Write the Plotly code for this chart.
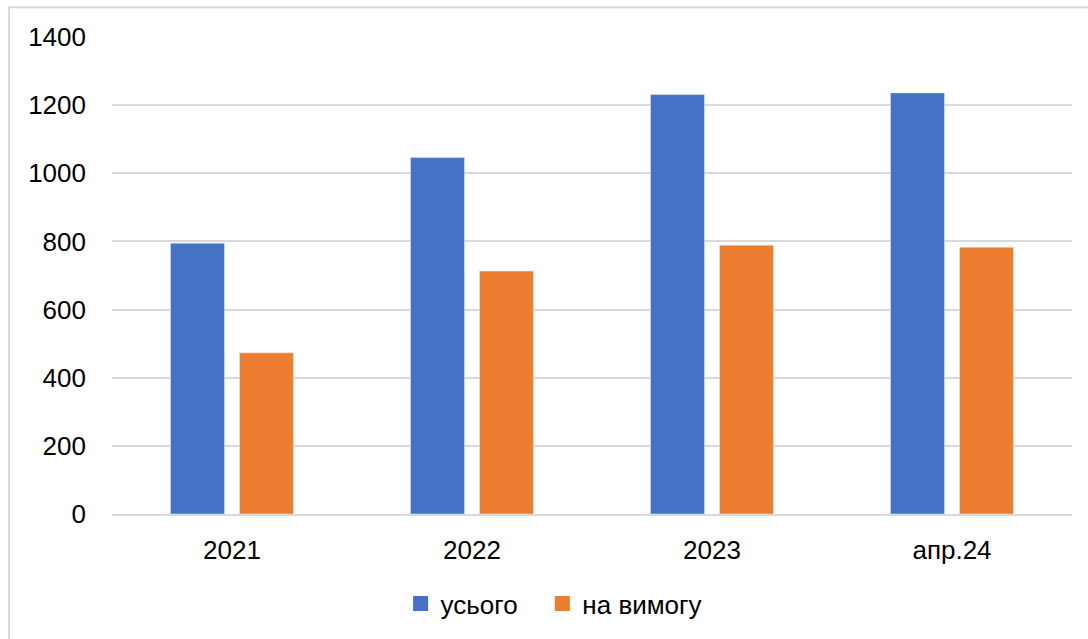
import plotly.graph_objects as go

categories = ["2021", "2022", "2023", "апр.24"]
total = [795, 1046, 1231, 1236]
on_demand = [473, 713, 789, 783]
y_ticks = [0, 200, 400, 600, 800, 1000, 1200, 1400]
series_names = ["усього", "на вимогу"]
colors = ["#4472C4", "#ED7D31"]

fig = go.Figure()
for name, vals, col in zip(series_names, [total, on_demand], colors):
    fig.add_trace(go.Bar(name=name, x=categories, y=vals, marker_color=col,
                         showlegend=False, legendgroup=name))
# legend entries with larger square swatches (extra padding after the first entry)
pads = ["\u00a0\u00a0\u2009", ""]
for name, col, pad in zip(series_names, colors, pads):
    fig.add_trace(go.Scatter(name=name + pad, x=[None], y=[None], mode="markers",
                             marker=dict(symbol="square", size=15, color=col),
                             legendgroup=name, showlegend=True))

fig.update_layout(
    width=1088, height=639,
    margin=dict(l=112, r=16, t=37, b=123),
    paper_bgcolor="white", plot_bgcolor="white",
    font=dict(family="Liberation Sans, Arial, sans-serif", size=26, color="black"),
    barmode="group", bargap=0.425, bargroupgap=0.217,
    showlegend=True,
    legend=dict(orientation="h", x=0.46, xanchor="center", y=-0.188, yanchor="middle",
                font=dict(size=26), itemwidth=30, traceorder="normal"),
    xaxis=dict(showgrid=False, showline=True, linecolor="#d9d9d9", linewidth=2,
               ticks="", ticklabelstandoff=12),
    yaxis=dict(range=[0, 1400], tickvals=y_ticks, showgrid=True, gridcolor="#d9d9d9",
               gridwidth=2, zeroline=False, showline=False, ticks="", ticklabelstandoff=25),
    shapes=[dict(type="rect", xref="paper", yref="paper", x0=-0.1073, x1=1.03,
                 y0=-0.4, y1=1.0626, line=dict(color="#d9d9d9", width=2), layer="below")],
)

fig.write_html("out.html")
